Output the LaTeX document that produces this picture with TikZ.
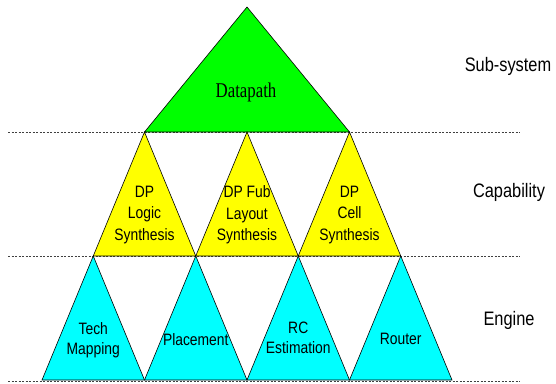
\documentclass[tikz,border=0pt]{standalone}
\usepackage{fontspec}
\setmainfont{Liberation Sans}[FakeStretch=0.84]
\newfontfamily\titlefont{Liberation Serif}[FakeStretch=0.8]
\usepackage{tikz}
\usetikzlibrary{positioning}
\usepackage{xcolor}
\definecolor{subgreen}{RGB}{0,255,0}
\definecolor{capyellow}{RGB}{255,255,0}
\definecolor{engcyan}{RGB}{0,255,255}

\begin{document}
\begin{tikzpicture}[x=1pt,y=-1pt,
    tri/.style={draw=black, line width=0.6pt, line join=miter},
    levelline/.style={draw=black!75, line width=0.6pt, dash pattern=on 2pt off 1.5pt},
    captext/.style={align=center, inner sep=0pt, font=\fontsize{16.5}{21.5}\selectfont},
    engtext/.style={align=center, inner sep=0pt, font=\fontsize{16.5}{20.5}\selectfont},
    tiertext/.style={anchor=base, inner sep=0pt, font=\fontsize{19.5}{22}\selectfont}]
    \useasboundingbox (0,0) rectangle (556,383);

    % Level separators
    \draw[levelline] (8,132) -- (520,132);
    \draw[levelline] (8,256) -- (520,256);
    \draw[levelline] (8,381) -- (520,381);

    % Sub-system triangle
    \filldraw[tri, fill=subgreen] (247,7) -- (144.5,132) -- (349.5,132) -- cycle;
    \node[anchor=base, inner sep=0pt, font=\titlefont\fontsize{21}{24}\selectfont] (datapath) at (246,97) {Datapath};

    % Capability triangles
    \foreach \x in {144.5,247,349.5}
        \filldraw[tri, fill=capyellow] (\x,132) -- (\x-51.25,256) -- (\x+51.25,256) -- cycle;
    \node[captext] (logic) at (144.5,215) {DP\\Logic\\Synthesis};
    \node[captext] (fublayout) at (247,215) {DP Fub\\Layout\\Synthesis};
    \node[captext] (cell) at (349.5,215) {DP\\Cell\\Synthesis};

    % Engine triangles
    \foreach \x in {93.25,195.75,298.25,400.75}
        \filldraw[tri, fill=engcyan] (\x,256) -- (\x-51.25,380) -- (\x+51.25,380) -- cycle;
    \node[engtext] (techmap) at (93.25,340) {Tech\\Mapping};
    \node[engtext] (placement) at (195.75,339.5) {Placement};
    \node[engtext] (rcest) at (298.25,338) {RC\\Estimation};
    \node[engtext] (router) at (400.75,339) {Router};

    % Level names
    \node[tiertext] (subsystem) at (508,71) {Sub-system};
    \node[tiertext] (capability) at (509,197) {Capability};
    \node[tiertext] (engine) at (509,325) {Engine};
\end{tikzpicture}
\end{document}
